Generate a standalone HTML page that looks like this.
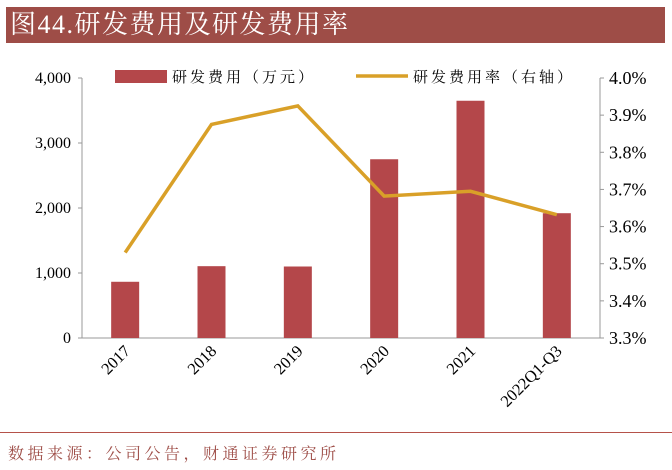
<!DOCTYPE html>
<html><head><meta charset="utf-8">
<style>
body{margin:0;background:#fff;width:672px;height:470px;overflow:hidden;font-family:"Liberation Serif","Noto Serif CJK SC",serif;}
#title{position:absolute;left:6px;top:7px;width:659px;height:36px;background:#9e4d47;color:#fff;font-size:26px;line-height:36px;padding-left:4px;box-sizing:border-box;letter-spacing:1.5px;font-family:"Liberation Serif","Noto Serif CJK SC",serif;}
#src{position:absolute;left:8px;top:441px;font-size:16px;letter-spacing:3.5px;color:#9e4d47;}
#rule{position:absolute;left:0;top:432px;width:672px;height:1px;background:#b5524a;}
</style></head><body>
<div id="title">图44.研发费用及研发费用率</div>
<svg id="chart" width="672" height="470" style="position:absolute;left:0;top:0"></svg>
<div id="rule"></div>
<div id="src">数据来源：公司公告，财通证券研究所</div>
<script>
const categories=["2017","2018","2019","2020","2021","2022Q1-Q3"];
const expense=[865,1105,1100,2750,3650,1920];
const ratio=[3.53,3.875,3.925,3.682,3.695,3.632];
const leftTicks=[0,1000,2000,3000,4000];
const leftTickLabels=["0","1,000","2,000","3,000","4,000"];
const rightTicks=[3.3,3.4,3.5,3.6,3.7,3.8,3.9,4.0];

const NS="http://www.w3.org/2000/svg";
const svg=document.getElementById('chart');
const X0=82,X1=600,Y0=338,Y1=78;
const band=(X1-X0)/categories.length;
const xc=i=>X0+band*(i+0.5);
const yL=v=>Y0-(v-0)/4000*(Y0-Y1);
const yR=v=>Y0-(v-3.3)/0.7*(Y0-Y1);
function mk(t,a,p){const e=document.createElementNS(NS,t);for(const k in a)e.setAttribute(k,a[k]);(p||svg).appendChild(e);return e;}

let e=mk('line',{x1:X0,y1:Y1,x2:X0,y2:Y0,stroke:'#999'});


e=mk('line',{x1:X1,y1:Y1,x2:X1,y2:Y0,stroke:'#999'});


e=mk('line',{x1:X0-4,y1:Y0,x2:X1+4,y2:Y0,stroke:'#999'});



leftTicks.forEach((v,i)=>{
  const y=yL(v);
  mk('line',{x1:X0-4,y1:y,x2:X0,y2:y,stroke:'#999'});
  const t=mk('text',{x:X0-11,y:y+5,'text-anchor':'end','font-size':16,fill:'#000'});
  t.textContent=leftTickLabels[i];
  
  
});
rightTicks.forEach(v=>{
  const y=yR(v);
  mk('line',{x1:X1,y1:y,x2:X1+4,y2:y,stroke:'#999'});
  const t=mk('text',{x:X1+9,y:y+6,'font-size':18,fill:'#000'});
  t.textContent=v.toFixed(1)+'%';
  
  
});

expense.forEach((v,i)=>{
  const r=mk('rect',{x:xc(i)-14,y:yL(v),width:28,height:Y0-yL(v),fill:'#b4474a'});
  
  
});
const pts=ratio.map((v,i)=>xc(i)+','+yR(v)).join(' ');
const pl=mk('polyline',{points:pts,fill:'none',stroke:'#d9a028','stroke-width':3.5,'stroke-linejoin':'miter'});



categories.forEach((c,i)=>{
  const x=xc(i)+6,y=Y0+14;
  const t=mk('text',{x:x,y:y,'text-anchor':'end','font-size':16.5,fill:'#000',transform:`rotate(-45 ${x} ${y})`});
  t.textContent=c;
  
  
});

const g=mk('g',{});


const lr=mk('rect',{x:115,y:70,width:52,height:13,fill:'#b4474a'},g);


let lt=mk('text',{x:172,y:82,'font-size':15,'letter-spacing':3,fill:'#000'},g);
lt.textContent='研发费用（万元）';


const ll=mk('line',{x1:356,y1:76,x2:408,y2:76,stroke:'#d9a028','stroke-width':3.5},g);


lt=mk('text',{x:413,y:82,'font-size':15,'letter-spacing':3,fill:'#000'},g);
lt.textContent='研发费用率（右轴）';


</script>
</body></html>
